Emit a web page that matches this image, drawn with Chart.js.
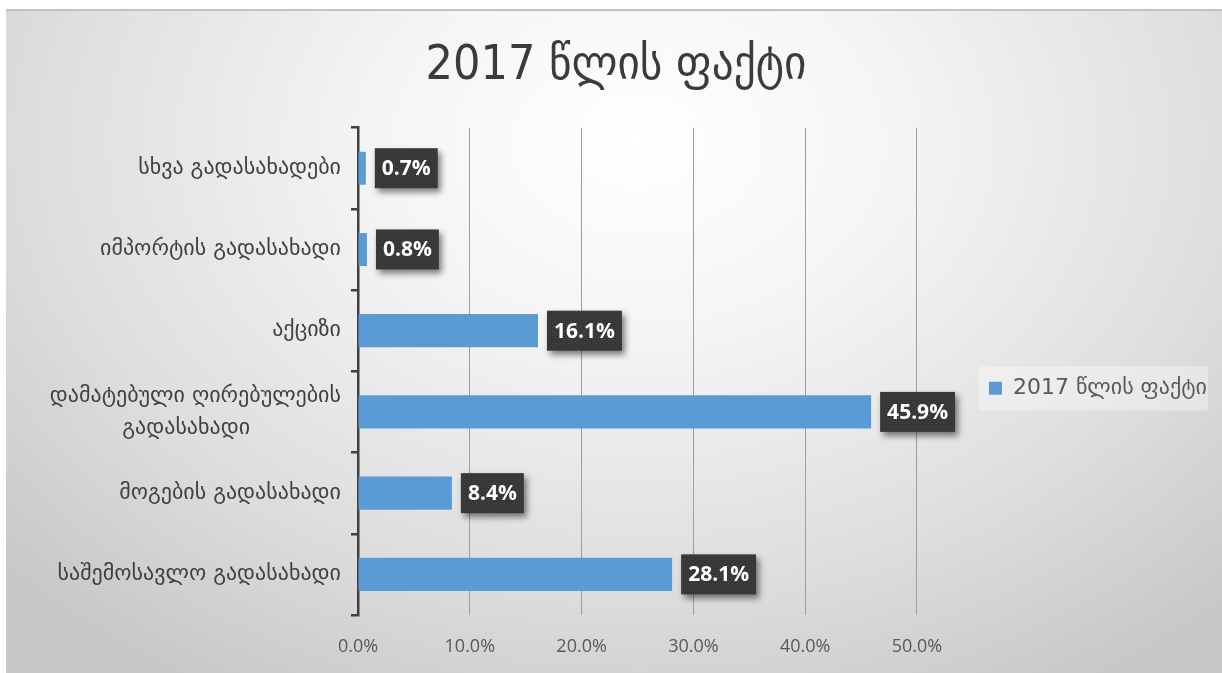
<!DOCTYPE html>
<html lang="ka">
<head>
<meta charset="utf-8">
<title>2017 წლის ფაქტი</title>
<script src="https://cdn.jsdelivr.net/npm/chart.js@4.4.1/dist/chart.umd.min.js"></script>
<style>
    html, body { margin: 0; padding: 0; background: #fff; }
    #card {
        position: absolute;
        left: 6px;
        top: 9px;
        width: 1216px;
        height: 664px;
        box-shadow: inset 0 2px 0 #c2c2c2;
        background: radial-gradient(ellipse 70% 95% at 52% 20%, #ffffff 0%, #f5f5f5 30%, #dedede 70%, #c8c8c8 100%);
    }
    #card canvas { display: block; }
</style>
</head>
<body>
<div id="card"><canvas id="taxChart"></canvas></div>
<script>
// Tax structure, 2017 actual (% of total)
const chartTitle = '2017 წლის ფაქტი';
const seriesName = '2017 წლის ფაქტი';
const categories = [
    'სხვა გადასახადები',
    'იმპორტის გადასახადი',
    'აქციზი',
    ['დამატებული ღირებულების', 'გადასახადი             '],
    'მოგების გადასახადი',
    'საშემოსავლო გადასახადი'
];
const shares = [0.7, 0.8, 16.1, 45.9, 8.4, 28.1];
const xTicks = [0, 10, 20, 30, 40, 50];

const georgianFont = '"DejaVu Sans", "Noto Sans", sans-serif';
const titleFont = '"DejaVu Sans Condensed", "DejaVu Sans", sans-serif';
const numberFont = '"Open Sans", "Noto Sans", sans-serif';

// dark dotted fill for the value boxes
function dottedFill(ctx) {
    const tile = document.createElement('canvas');
    tile.width = 4;
    tile.height = 4;
    const t = tile.getContext('2d');
    t.fillStyle = '#363636';
    t.fillRect(0, 0, 4, 4);
    t.fillStyle = '#4a4a4a';
    t.fillRect(0, 0, 1, 1);
    t.fillRect(2, 2, 1, 1);
    return ctx.createPattern(tile, 'repeat');
}

// value labels in dark boxes next to each bar end
const valueBoxes = {
    id: 'valueBoxes',
    afterDatasetsDraw(chart) {
        const ctx = chart.ctx;
        const data = chart.data.datasets[0].data;
        const fill = dottedFill(ctx);
        ctx.save();
        ctx.font = 'bold 21px ' + numberFont;
        ctx.textBaseline = 'middle';
        chart.getDatasetMeta(0).data.forEach((bar, i) => {
            const text = data[i].toFixed(1) + '%';
            const w = ctx.measureText(text).width + 14;
            const h = 40;
            const left = bar.x + 9;
            const top = bar.y - h / 2;
            ctx.shadowColor = 'rgba(0, 0, 0, 0.5)';
            ctx.shadowBlur = 6;
            ctx.shadowOffsetX = 3;
            ctx.shadowOffsetY = 4;
            ctx.fillStyle = fill;
            ctx.fillRect(left, top, w, h);
            ctx.shadowColor = 'transparent';
            ctx.fillStyle = '#ffffff';
            ctx.fillText(text, left + 7, bar.y + 1);
        });
        ctx.restore();
    }
};

// soft light panel behind the legend entry
const legendPanel = {
    id: 'legendPanel',
    beforeDraw(chart) {
        const box = chart.legend && chart.legend.legendHitBoxes[0];
        if (!box) return;
        const ctx = chart.ctx;
        ctx.save();
        ctx.fillStyle = 'rgba(255, 255, 255, 0.35)';
        ctx.fillRect(box.left - 10, box.top - 11, box.width + 11, box.height + 22);
        ctx.restore();
    }
};

const ctx = document.getElementById('taxChart').getContext('2d');
const taxChart = new Chart(ctx, {
    type: 'bar',
    data: {
        labels: categories,
        datasets: [{
            label: seriesName,
            data: shares,
            backgroundColor: '#5b9bd5',
            borderWidth: 0,
            categoryPercentage: 0.8,
            barPercentage: 0.51
        }]
    },
    options: {
        indexAxis: 'y',
        responsive: true,
        maintainAspectRatio: false,
        animation: false,
        layout: {
            padding: { left: 9, right: 5, top: 0, bottom: 0 }
        },
        scales: {
            x: {
                min: xTicks[0],
                max: xTicks[xTicks.length - 1],
                ticks: {
                    stepSize: xTicks[1] - xTicks[0],
                    padding: 21,
                    color: '#595959',
                    font: { family: numberFont, size: 18 },
                    callback: (v) => Number(v).toFixed(1) + '%'
                },
                grid: { color: '#9e9e9e', lineWidth: 1, drawTicks: false },
                border: { display: false },
                afterFit: (scale) => { scale.height = 58; }
            },
            y: {
                ticks: {
                    padding: 10,
                    color: '#404040',
                    font: { family: georgianFont, size: 22, lineHeight: 1.45 }
                },
                grid: {
                    drawOnChartArea: false,
                    drawTicks: true,
                    tickLength: 7,
                    color: '#404040',
                    lineWidth: 2.5
                },
                border: { color: '#404040', width: 2.5 },
                afterFit: (scale) => { scale.width = 343; }
            }
        },
        plugins: {
            title: {
                display: true,
                text: chartTitle,
                color: '#3b3b3b',
                font: { family: titleFont, size: 48, weight: 'normal' },
                padding: { top: 29, bottom: 32 }
            },
            legend: {
                position: 'right',
                fullSize: false,
                // empty title only nudges the single entry down a little
                title: { display: true, text: '', font: { size: 10, lineHeight: 1 }, padding: { top: 24, bottom: 0 } },
                labels: {
                    boxWidth: 13,
                    boxHeight: 13,
                    padding: 72,
                    color: '#595959',
                    font: { family: georgianFont, size: 22 }
                }
            },
            tooltip: { enabled: false }
        }
    },
    plugins: [legendPanel, valueBoxes]
});
</script>
</body>
</html>
